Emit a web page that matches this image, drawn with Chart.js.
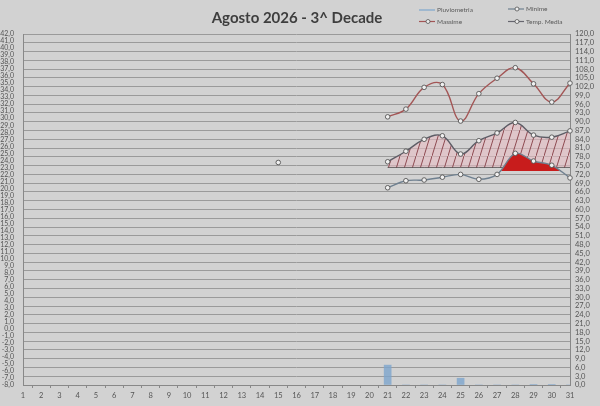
<!DOCTYPE html>
<html>
<head>
<meta charset="utf-8">
<script src="https://cdn.jsdelivr.net/npm/chart.js@4.4.1/dist/chart.umd.min.js"></script>
<style>
  html, body { margin: 0; padding: 0; background: #d2d2d2; }
  #wrap { width: 600px; height: 406px; }
</style>
</head>
<body>
<div id="wrap"><canvas id="grafico" width="600" height="406"></canvas></div>
<script>
// Agosto 2026 - 3^ decade: temperature (asse sx, °C) e pioggia (asse dx, mm)
const giorni = ["1","2","3","4","5","6","7","8","9","10","11","12","13","14","15","16",
                "17","18","19","20","21","22","23","24","25","26","27","28","29","30","31"];
const giorniDecade = ["21","22","23","24","25","26","27","28","29","30","31"];

const massime = [30.2, 31.3, 34.4, 34.8, 29.6, 33.5, 35.7, 37.2, 34.9, 32.3, 35.0];
const media   = [23.8, 25.3, 27.0, 27.5, 24.9, 26.8, 27.9, 29.4, 27.6, 27.3, 28.2];
const minime  = [20.1, 21.1, 21.2, 21.6, 22.0, 21.3, 22.0, 25.0, 23.9, 23.3, 21.5];
const pioggia = [6.8, 0, 0, 0, 2.3, 0, 0, 0, 0.2, 0.2, 0];
const soglia  = [23.0, 23.0, 23.0, 23.0, 23.0, 23.0, 23.0, 23.0, 23.0, 23.0, 23.0];
const SOGLIA_MEDIA = 23.0;
const SOGLIA_MINIME = 22.5;
const puntoIsolato = [{ x: "15", y: 23.7 }];

const FONT = "Lato, 'Open Sans', sans-serif";
const virgola = v => v.toFixed(1).replace(".", ",");
const punti = arr => giorniDecade.map((g, i) => ({ x: g, y: arr[i] }));

function tratteggio() {
    const c = document.createElement("canvas");
    c.width = 8; c.height = 26;
    const g = c.getContext("2d");
    g.fillStyle = "rgba(232,190,196,0.6)";
    g.fillRect(0, 0, 8, 26);
    g.strokeStyle = "#843c44";
    g.lineWidth = 0.9;
    g.beginPath();
    g.moveTo(-0.5, 27.6);
    g.lineTo(8.5, -1.6);
    g.stroke();
    return g.createPattern(c, "repeat");
}

const legenda = [
    { testo: "Pluviometria", x: 419, y: 10, colore: "#9fb8cf", marker: false },
    { testo: "Minime",       x: 508, y: 9,  colore: "#6f8090", marker: true },
    { testo: "Massime",      x: 419, y: 21.5, colore: "#a35555", marker: true },
    { testo: "Temp. Media",  x: 508, y: 21.5, colore: "#66666f", marker: true },
];

const decorazioni = {
    id: "decorazioni",
    beforeDraw(chart) {
        const ctx = chart.ctx;
        ctx.save();
        ctx.fillStyle = "#d2d2d2";
        ctx.fillRect(0, 0, chart.width, chart.height);
        ctx.restore();
    },
    afterDraw(chart) {
        const ctx = chart.ctx;
        ctx.save();
        ctx.fillStyle = "#3e3e3e";
        ctx.font = "bold 15px " + FONT;
        ctx.textAlign = "center";
        ctx.textBaseline = "middle";
        ctx.fillText("Agosto 2026 - 3^ Decade", 297, 18);

        ctx.font = "6.5px " + FONT;
        ctx.textAlign = "left";
        legenda.forEach(it => {
            ctx.strokeStyle = it.colore;
            ctx.lineWidth = it.marker ? 1.2 : 2;
            ctx.beginPath();
            ctx.moveTo(it.x, it.y);
            ctx.lineTo(it.x + 16, it.y);
            ctx.stroke();
            if (it.marker) {
                ctx.beginPath();
                ctx.arc(it.x + 9, it.y, 2, 0, Math.PI * 2);
                ctx.fillStyle = "#ececec";
                ctx.fill();
                ctx.strokeStyle = "#555";
                ctx.lineWidth = 0.8;
                ctx.stroke();
            }
            ctx.fillStyle = "#5a5a5a";
            ctx.fillText(it.testo, it.x + 18, it.y);
        });
        ctx.restore();
    }
};

const marcatore = {
    pointRadius: 2.3,
    pointBackgroundColor: "#f0f0f0",
    pointBorderColor: "#555",
    pointBorderWidth: 0.9,
};

new Chart(document.getElementById("grafico"), {
    type: "line",
    data: {
        labels: giorni,
        datasets: [
            {
                label: "Massime",
                data: punti(massime),
                yAxisID: "y",
                borderColor: "#a35555",
                borderWidth: 1.4,
                tension: 0.4,
                fill: false,
                order: 0,
                ...marcatore,
            },
            {
                label: "Punto",
                data: puntoIsolato,
                yAxisID: "y",
                showLine: false,
                order: 0,
                ...marcatore,
            },
            {
                label: "Minime",
                data: punti(minime),
                yAxisID: "y",
                borderColor: "#6f8090",
                borderWidth: 1.4,
                tension: 0.35,
                fill: { target: { value: SOGLIA_MINIME }, above: "#c81c1c", below: "rgba(0,0,0,0)" },
                order: 1,
                ...marcatore,
            },
            {
                label: "Temp. Media",
                data: punti(media),
                yAxisID: "y",
                borderColor: "#5d5d66",
                borderWidth: 1.4,
                tension: 0.4,
                fill: { target: { value: SOGLIA_MEDIA }, above: tratteggio(), below: "rgba(0,0,0,0)" },
                order: 2,
                ...marcatore,
            },
            {
                label: "Soglia",
                data: punti(soglia),
                yAxisID: "y",
                borderColor: "#4a4a4a",
                borderWidth: 1,
                pointRadius: 0,
                fill: false,
                order: 3,
            },
            {
                type: "bar",
                label: "Pluviometria",
                data: punti(pioggia),
                yAxisID: "y1",
                backgroundColor: "rgba(125,165,205,0.8)",
                barThickness: 7,
                order: 4,
            },
        ],
    },
    options: {
        responsive: false,
        animation: false,
        layout: { padding: { top: 34, left: 0, right: 0, bottom: 0 } },
        plugins: {
            legend: { display: false },
            title: { display: false },
            tooltip: { enabled: false },
        },
        scales: {
            x: {
                offset: false,
                grid: { drawOnChartArea: false, tickLength: 3, color: "#888" },
                border: { color: "#888" },
                ticks: { color: "#555", font: { family: FONT, size: 7.5 }, autoSkip: false, maxRotation: 0, padding: 3 },
                afterFit: s => { s.height = 21; },
            },
            y: {
                position: "left",
                min: -8,
                max: 42,
                grid: { display: false },
                border: { display: true, color: "#888" },
                ticks: {
                    stepSize: 1, autoSkip: false, color: "#555", padding: 1,
                    font: { family: FONT, size: 7 },
                    callback: v => virgola(v),
                },
                afterFit: s => { s.width = 23; },
            },
            y1: {
                position: "right",
                min: 0,
                max: 120,
                grid: { color: "#9a9a9a", lineWidth: 1, drawTicks: false },
                border: { display: true, color: "#888" },
                ticks: {
                    stepSize: 3, autoSkip: false, color: "#555", padding: 5,
                    font: { family: FONT, size: 7.5 },
                    callback: v => virgola(v),
                },
                afterFit: s => { s.width = 30; },
            },
        },
    },
    plugins: [decorazioni],
});
</script>
</body>
</html>
